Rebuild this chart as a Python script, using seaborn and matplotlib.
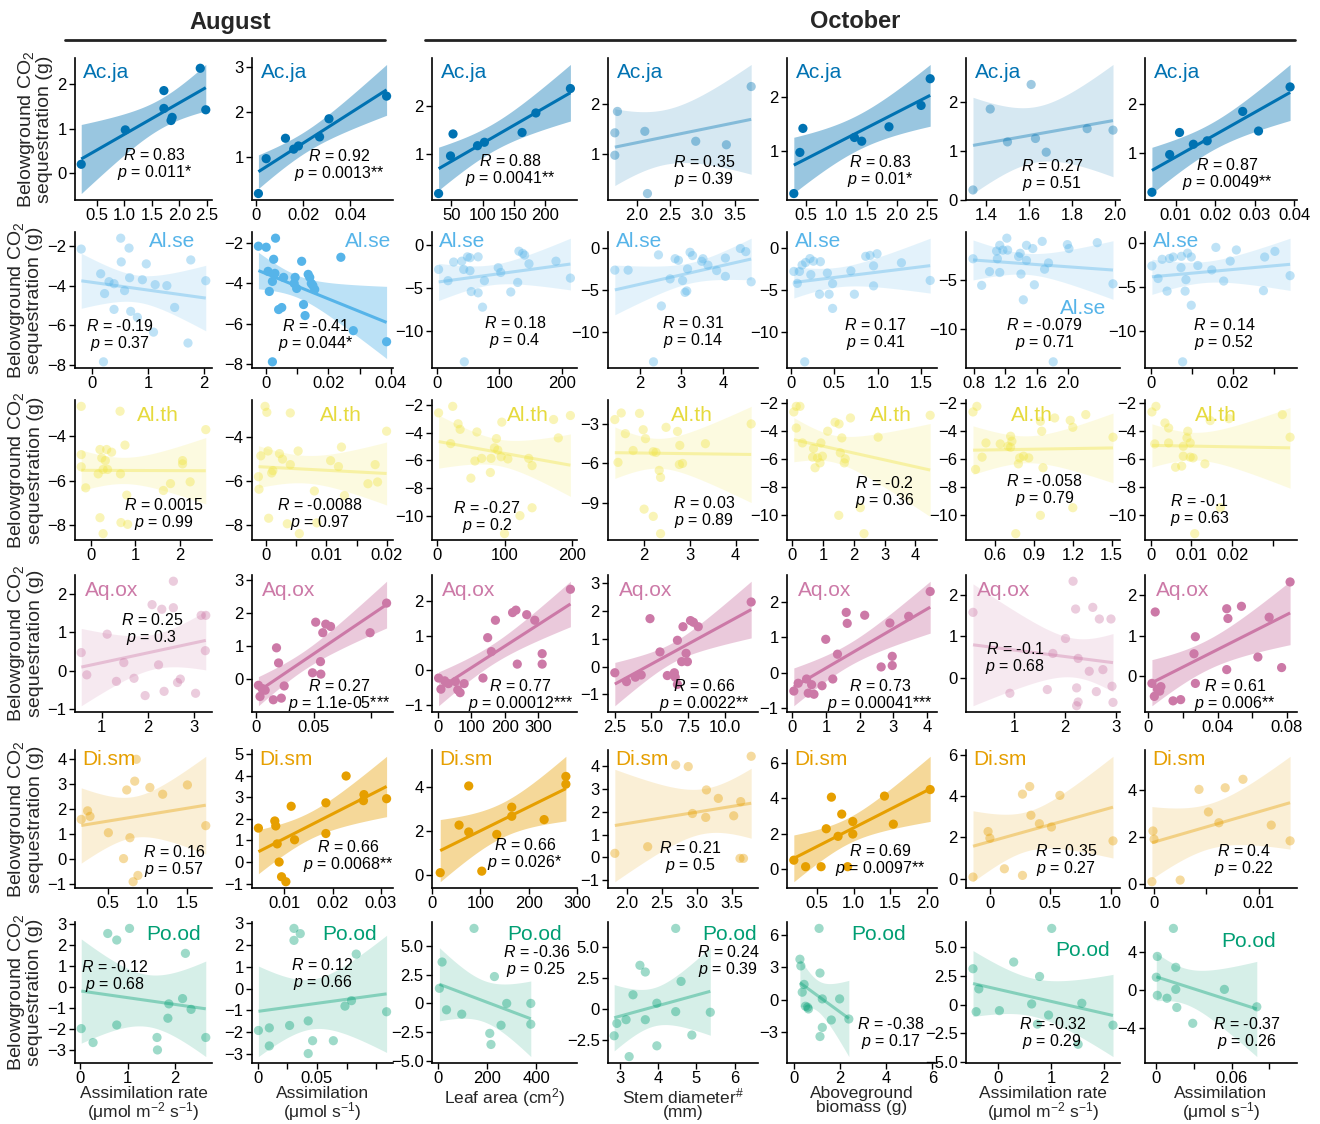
import numpy as np
import pandas as pd
import seaborn as sns
import matplotlib
matplotlib.use("Agg")
import matplotlib.pyplot as plt
from matplotlib.lines import Line2D

# ---------------- data: Ac.ja ----------------
acja1_x = [0.22, 1.02, 1.72, 1.72, 1.85, 1.87, 2.38, 2.48]
acja1_y = [0.20, 0.97, 1.85, 1.45, 1.18, 1.25, 2.35, 1.42]
acja2_x = [0.001, 0.0043, 0.0125, 0.016, 0.018, 0.027, 0.031, 0.0555]
acja2_y = [0.20, 0.97, 1.42, 1.18, 1.25, 1.45, 1.85, 2.35]
acja3_x = [30, 49, 53, 92, 103, 163, 185, 240]
acja3_y = [0.20, 0.97, 1.42, 1.18, 1.25, 1.45, 1.85, 2.35]
acja4_x = [1.70, 1.66, 1.66, 2.12, 2.16, 2.90, 3.37, 3.75]
acja4_y = [1.85, 1.42, 0.97, 1.45, 0.20, 1.25, 1.18, 2.35]
acja5_x = [0.30, 0.40, 0.45, 1.30, 1.42, 1.87, 2.40, 2.55]
acja5_y = [0.20, 0.97, 1.42, 1.25, 1.18, 1.45, 1.85, 2.35]
acja6_x = [1.34, 1.42, 1.50, 1.61, 1.63, 1.68, 1.87, 1.99]
acja6_y = [0.20, 1.85, 1.18, 2.35, 1.25, 0.97, 1.45, 1.42]
acja7_x = [0.004, 0.0085, 0.011, 0.0145, 0.018, 0.027, 0.031, 0.039]
acja7_y = [0.20, 0.97, 1.42, 1.18, 1.25, 1.85, 1.45, 2.35]

# ---------------- data: Al.se ----------------
alse1_x = [-0.2, 0.51, 0.66, 0.15, 0.52, 0.97, 0.39, 0.22, 0.58, 0.67, 0.9, 1.13,
           1.34, 0.39, 0.69, 0.81, 0.2, 1.1, 1.48, 1.77, 2.04, 1.72, 0.3]
alse1_y = [-2.15, -1.6, -2.1, -3.4, -2.8, -2.9, -3.9, -4.4, -4.25, -3.6, -3.7, -3.95,
           -4.0, -5.2, -5.3, -5.6, -7.85, -6.35, -5.1, -2.7, -3.75, -6.9, -3.8]
alse2_x = [-0.0025, 0.0, 0.003, 0.0006, 0.0024, 0.002, 0.0028, 0.0056, 0.001, 0.004,
           0.005, 0.0093, 0.009, 0.0098, 0.0114, 0.0135, 0.014, 0.0145, 0.015, 0.0156,
           0.012, 0.0125, 0.024, 0.028, 0.0387, 0.002]
alse2_y = [-2.15, -2.2, -1.75, -3.4, -2.8, -3.9, -3.5, -3.7, -4.4, -5.3, -5.2, -3.7,
           -4.0, -4.25, -2.9, -3.55, -3.7, -4.0, -4.1, -4.3, -5.05, -5.6, -2.7, -6.35,
           -6.9, -7.9]
alse3_x = [3, 18, 27, 40, 43, 49, 53, 53, 66, 55, 66, 76, 73, 98, 102, 118, 129, 131,
           137, 140, 147, 190, 213, 44]
alse3_y = [-2.85, -4.15, -2.0, -1.9, -2.85, -1.4, -1.5, -3.0, -1.4, -5.4, -5.55, -4.15,
           -7.2, -2.65, -3.2, -5.45, -4.35, -0.75, -1.0, -1.2, -2.2, -1.9, -3.85, -13.5]
alse4_x = [1.4, 1.72, 2.45, 2.85, 2.93, 3.21, 3.27, 3.15, 3.52, 3.49, 3.64, 3.85, 4.06,
           4.42, 4.55, 4.68, 4.06, 3.03, 2.73, 3.13, 3.09, 2.52, 2.33]
alse4_y = [-2.6, -2.6, -0.77, -1.23, -1.42, -0.46, -0.85, -2.46, -1.23, -1.54, -2.0,
           -2.65, -1.15, 0.0, -0.38, -4.0, -3.35, -3.85, -3.65, -5.1, -5.27, -6.9, -13.6]
alse5_x = [0.035, 0.075, 0.1, 0.13, 0.17, 0.22, 0.26, 0.23, 0.34, 0.42, 0.33, 0.44,
           0.48, 0.48, 0.69, 0.73, 0.86, 0.91, 0.95, 0.95, 0.99, 1.27, 1.6, 0.16]
alse5_y = [-2.77, -4.2, -2.77, -2.0, -1.7, -1.23, -1.54, -3.15, -1.6, -2.96, -5.5, -5.5,
           -4.23, -7.2, -2.7, -5.5, -0.96, -0.85, -2.1, -4.5, -0.65, -1.73, -3.85, -13.6]
alse6_x = [0.79, 0.9, 1.0, 1.09, 1.1, 1.13, 1.13, 1.17, 1.22, 1.23, 1.37, 1.39, 1.4,
           1.43, 1.47, 1.47, 1.55, 1.57, 1.67, 1.7, 1.75, 1.99, 2.01, 2.37, 2.57, 1.81]
alse6_y = [-2.83, -5.56, -4.15, -2.04, -2.83, -4.24, -1.45, -1.94, -0.72, -1.94, -2.6,
           -2.27, -4.4, -7.04, -3.0, -1.45, -1.78, -5.5, -1.05, -3.9, -3.26, -1.38,
           -1.78, -1.18, -5.4, -13.4]
alse7_x = [0.0003, 0.0018, 0.0028, 0.0046, 0.0055, 0.004, 0.0074, 0.0075, 0.0084,
           0.0086, 0.009, 0.0099, 0.0099, 0.0115, 0.0149, 0.0159, 0.0178, 0.0194,
           0.0209, 0.0275, 0.0278, 0.0303, 0.034, 0.0078]
alse7_y = [-2.65, -4.07, -1.9, -1.8, -1.64, -5.5, -2.84, -1.56, -5.5, -4.2, -1.2, -1.64,
           -7.1, -2.6, -3.1, -0.55, -4.36, -2.1, -0.84, -5.45, -1.64, -1.0, -3.75, -13.5]

# ---------------- data: Al.th ----------------
alth1_x = [-0.21, 0.66, -0.21, -0.21, -0.11, 0.17, 0.21, 0.28, 0.28, 0.25, 0.33, 0.38,
           0.21, 0.36, 0.47, 0.67, 0.77, 0.81, 0.68, 0.83, 1.63, 1.79, 2.06, 2.06, 2.23,
           2.58]
alth1_y = [-2.65, -2.87, -4.83, -5.38, -6.33, -5.7, -7.68, -8.4, -5.5, -4.98, -5.1, -5.5,
           -4.6, -4.6, -4.72, -5.7, -4.4, -6.66, -7.9, -7.98, -6.45, -6.14, -5.1, -5.25,
           -6.06, -3.7]
alth2_x = [-0.0002, 0.0001, 0.004, -0.0013, -0.0009, -0.0012, 0.0003, 0.0009, 0.0011,
           0.0022, 0.0027, 0.004, 0.0053, 0.0004, 0.0035, 0.0055, 0.008, 0.0084, 0.0107,
           0.012, 0.0125, 0.013, 0.0169, 0.0181, 0.0185, 0.02]
alth2_y = [-2.6, -2.87, -2.9, -5.8, -4.85, -6.37, -4.63, -5.63, -5.52, -4.75, -5.0,
           -5.25, -4.63, -7.69, -7.94, -8.39, -6.45, -7.9, -5.07, -5.34, -4.45, -6.66,
           -6.12, -5.25, -6.04, -3.73]
alth3_x = [2, 23, 20, 31, 34, 50, 59, 56, 66, 80, 79, 85, 88, 90, 96, 95, 105, 136, 141,
           123, 141, 100, 173, 180, 198]
alth3_y = [-2.57, -2.1, -4.79, -3.36, -3.76, -7.29, -3.95, -6.05, -5.86, -5.86, -6.88,
           -5.1, -4.43, -5.26, -3.24, -5.74, -5.9, -5.86, -6.38, -10.0, -9.43, -11.3,
           -3.05, -4.38, -2.76]
alth4_x = [1.36, 1.5, 1.59, 1.76, 1.9, 1.43, 1.98, 2.03, 2.48, 2.73, 2.2, 2.26, 2.78,
           3.34, 2.84, 2.77, 2.33, 2.36, 2.0, 2.2, 2.36, 4.34]
alth4_y = [-2.7, -2.2, -3.77, -5.05, -2.23, -5.95, -3.47, -4.15, -3.29, -3.6, -5.14,
           -5.19, -4.66, -4.53, -6.03, -6.11, -6.56, -7.09, -9.5, -10.05, -11.36, -3.03]
alth5_x = [0.05, 0.13, 0.25, 0.13, 0.33, 0.66, 0.69, 0.74, 0.82, 0.93, 0.98, 0.9, 1.15,
           1.39, 1.52, 1.61, 1.56, 1.72, 1.69, 1.89, 1.51, 2.21, 2.33, 2.79, 4.48]
alth5_y = [-2.64, -2.24, -2.24, -3.79, -4.86, -5.88, -5.26, -6.64, -5.93, -4.86, -5.81,
           -6.29, -4.02, -3.38, -3.5, -4.5, -5.57, -6.0, -6.29, -3.07, -10.05, -9.5,
           -11.36, -4.45, -2.88]
alth6_x = [0.43, 0.46, 0.5, 0.45, 0.53, 0.64, 0.7, 0.72, 0.73, 0.72, 0.78, 0.79, 0.82,
           0.86, 0.95, 0.96, 0.97, 0.95, 1.06, 1.18, 1.2, 1.2, 1.3, 1.51, 0.76]
alth6_y = [-2.64, -2.24, -5.88, -6.76, -4.86, -4.93, -5.1, -4.38, -4.74, -5.17, -6.36,
           -5.93, -5.81, -5.93, -3.31, -4.02, -6.64, -10.05, -3.07, -3.24, -3.74, -9.5,
           -2.83, -4.45, -11.36]
alth7_x = [0.0003, 0.0013, 0.001, 0.0035, 0.0044, 0.0044, 0.0061, 0.0076, 0.008, 0.0089,
           0.0091, 0.0097, 0.0097, 0.008, 0.0104, 0.0133, 0.0146, 0.0108, 0.0171, 0.0192,
           0.0323, 0.0342]
alth7_y = [-2.64, -2.24, -4.93, -3.43, -3.79, -4.86, -6.6, -6.52, -5.81, -4.5, -4.02,
           -5.88, -4.86, -5.1, -5.93, -6.36, -3.26, -11.36, -9.5, -3.12, -2.83, -4.45]

# ---------------- data: Aq.ox ----------------
aqox1_x = [0.56, 0.68, 1.12, 1.32, 1.48, 1.7, 2.09, 2.23, 1.94, 2.3, 2.35, 2.55, 2.55,
           2.64, 2.7, 3.03, 3.15, 3.25, 3.24]
aqox1_y = [0.47, -0.11, 0.95, -0.28, 0.21, -0.2, 1.72, 0.15, -0.65, 1.6, -0.54, 1.64,
           2.33, -0.31, -0.22, -0.59, 1.44, 1.44, 0.52]
aqox2_x = [0.0018, 0.0032, 0.0053, 0.0077, 0.0176, 0.0194, 0.0148, 0.0218, 0.0243,
           0.049, 0.0518, 0.056, 0.0563, 0.058, 0.0606, 0.0648, 0.0993, 0.1137]
aqox2_y = [-0.19, -0.53, -0.29, -0.34, 0.95, 0.49, -0.63, -0.58, -0.21, 0.19, 1.73,
           0.53, 0.15, 1.41, 1.67, 1.6, 1.41, 2.31]
aqox3_x = [3, 10, 21, 32, 53, 60, 67, 79, 135, 149, 160, 172, 223, 233, 237, 265, 289,
           311, 311, 395]
aqox3_y = [-0.22, -0.54, -0.3, -0.38, -0.32, -0.56, -0.64, -0.38, -0.22, 0.94, 0.54,
           1.44, 1.66, 1.73, 0.18, 1.6, 1.44, 0.48, 0.18, 2.33]
aqox4_x = [2.5, 3.3, 3.9, 4.3, 4.9, 5.58, 6.08, 6.56, 6.77, 7.15, 7.36, 7.45, 7.06, 7.66,
           7.86, 8.19, 6.62, 6.77, 11.8]
aqox4_y = [-0.22, -0.54, -0.38, -0.3, 1.73, 0.53, -0.32, -0.22, 0.95, 1.44, 0.48, 0.18,
           0.18, 1.66, 1.6, 1.44, -0.38, -0.64, 2.33]
aqox5_x = [0.04, 0.17, 0.42, 0.57, 0.47, 0.64, 0.88, 0.99, 1.34, 1.6, 1.63, 1.2, 2.15,
           2.64, 2.9, 2.97, 2.97, 3.46, 4.1]
aqox5_y = [-0.52, -0.3, -0.18, -0.34, -0.58, -0.61, -0.37, 0.94, 0.52, 1.7, 1.39, -0.18,
           1.62, 0.16, 1.4, 0.46, 0.2, 1.59, 2.29]
aqox6_x = [0.18, 0.91, 1.65, 1.76, 2.01, 2.16, 2.21, 2.26, 2.23, 2.26, 2.23, 2.48, 2.55,
           2.62, 2.68, 2.75, 2.91, 2.93, 2.95]
aqox6_y = [1.58, -0.37, -0.28, 0.59, 0.95, 2.33, 1.66, 0.47, -0.24, -0.58, -0.67, 0.16,
           1.7, -0.33, 1.42, 0.2, 1.42, -0.2, -0.59]
aqox7_x = [0.002, 0.0034, 0.0039, 0.0052, 0.0065, 0.0072, 0.0142, 0.0186, 0.0263, 0.0271,
           0.0271, 0.0452, 0.0459, 0.0452, 0.0537, 0.0632, 0.0697, 0.0769, 0.0818]
aqox7_y = [-0.18, -0.5, 1.58, -0.32, -0.37, -0.26, -0.61, -0.58, 0.55, 0.97, -0.18, 1.66,
           1.42, 0.16, 1.72, 0.47, 1.45, 0.21, 2.32]

# ---------------- data: Di.sm ----------------
dism1_x = [0.17, 0.25, 0.28, 0.51, 0.7, 0.74, 0.78, 0.82, 0.86, 0.84, 0.88, 1.03, 1.19,
           1.5, 1.73]
dism1_y = [1.58, 1.92, 1.7, 1.05, 0.02, 2.75, 0.85, -0.9, 3.97, 3.1, -0.65, 2.85, 2.58,
           2.95, 1.33]
dism2_x = [0.0046, 0.008, 0.0082, 0.0085, 0.0089, 0.0094, 0.0103, 0.0114, 0.0121, 0.0186,
           0.0186, 0.0228, 0.0265, 0.0264, 0.0312]
dism2_y = [1.57, 1.9, 1.67, 0.84, 0.0, -0.68, -0.91, 2.58, 1.03, 2.74, 1.32, 3.98, 3.12,
           2.84, 2.93]
dism3_x = [17, 56, 76, 76, 134, 165, 165, 232, 277, 277, 103]
dism3_y = [0.12, 2.27, 4.04, 1.96, 1.85, 2.67, 3.08, 2.52, 4.12, 4.47, 0.19]
dism4_x = [1.83, 2.3, 2.7, 2.88, 3.14, 3.31, 2.94, 3.13, 3.53, 3.63, 3.78, 3.62, 3.67]
dism4_y = [0.18, 0.47, 4.04, 3.97, 2.95, 2.58, 1.92, 1.75, 1.82, 2.44, 4.42, -0.04, -0.04]
dism5_x = [0.19, 0.35, 0.56, 0.63, 0.7, 0.79, 0.84, 0.92, 0.99, 0.99, 1.42, 1.54, 2.04]
dism5_y = [0.5, 0.13, 0.13, 2.28, 4.07, 1.85, 3.11, 0.13, 2.69, 1.98, 4.13, 2.54, 4.5]
dism6_x = [-0.14, -0.015, 0.0, 0.12, 0.27, 0.27, 0.33, 0.34, 0.41, 0.51, 0.58, 1.02]
dism6_y = [0.08, 2.28, 1.96, 0.48, 0.16, 4.09, 4.46, 3.07, 2.66, 2.5, 4.03, 1.83]
dism7_x = [-0.0002, -0.0001, 0.0, 0.0025, 0.0043, 0.0052, 0.0062, 0.0068, 0.0085, 0.0112,
           0.013]
dism7_y = [0.1, 2.26, 1.91, 0.17, 4.03, 3.07, 2.61, 4.1, 4.46, 2.51, 1.84]

# ---------------- data: Po.od ----------------
pood1_x = [0.02, 0.27, 0.58, 0.77, 1.04, 0.77, 1.62, 1.63, 1.87, 1.85, 2.16, 2.22, 2.34,
           2.65]
pood1_y = [-1.97, -2.63, 2.53, 2.22, 2.77, -1.8, -2.39, -2.98, -0.8, -1.48, -0.55, 1.59,
           -1.06, -2.39]
pood2_x = [0.0007, 0.0099, 0.0099, 0.027, 0.0307, 0.0307, 0.036, 0.0427, 0.0464, 0.0427,
           0.0639, 0.0737, 0.0792, 0.0832, 0.1088]
pood2_y = [-1.92, -1.8, -2.63, -1.69, 2.77, 2.22, 2.53, -1.48, -2.39, -2.98, -2.39, -0.8,
           -0.55, 1.59, -1.06]
pood3_x = [5, 16, 34, 96, 146, 210, 215, 229, 256, 279, 377, 377]
pood3_y = [1.32, 3.62, -0.56, -0.94, 6.56, -2.62, -3.59, 2.35, -1.91, 0.0, 0.0, -1.82]
pood4_x = [4.46, 3.53, 3.67, 4.6, 3.35, 3.97, 4.46, 5.36, 3.67, 3.17, 2.93, 2.86, 4.88,
           3.97, 3.25]
pood4_y = [6.5, 3.52, 2.98, 2.22, 1.14, 0.46, -0.22, -0.27, -0.87, -0.87, -1.17, -2.17,
           -2.11, -2.98, -3.85]
pood5_x = [0.26, 0.3, 0.36, 0.44, 0.5, 0.59, 0.63, 1.13, 1.23, 1.23, 1.13, 1.62, 1.98,
           2.38, 1.09]
pood5_y = [3.73, 3.11, 0.68, 1.4, -0.62, -0.71, -0.87, 2.45, 0.06, -2.58, -3.42, -1.89,
           0.06, -1.8, 6.58]
pood6_x = [-0.48, -0.37, -0.42, 0.02, 0.29, 0.63, 0.78, 0.95, 1.01, 0.74, 1.58, 2.17, 1.51]
pood6_y = [3.12, 1.37, -0.61, -0.52, 3.7, 0.06, 2.45, -0.9, 6.62, -1.69, 0.12, -1.78,
           -3.44]
pood7_x = [0.0008, 0.0, 0.0008, 0.0085, 0.0136, 0.0155, 0.0155, 0.0163, 0.029, 0.0542,
           0.08]
pood7_y = [3.57, 1.36, -0.56, -0.87, 6.54, 2.41, 0.07, -1.85, -3.53, 0.07, -1.78]

# ---------------- labels and statistics ----------------
species = ["Ac.ja", "Al.se", "Al.th", "Aq.ox", "Di.sm", "Po.od"]
r_values = [
    ["0.83", "0.92", "0.88", "0.35", "0.83", "0.27", "0.87"],
    ["-0.19", "-0.41", "0.18", "0.31", "0.17", "-0.079", "0.14"],
    ["0.0015", "-0.0088", "-0.27", "0.03", "-0.2", "-0.058", "-0.1"],
    ["0.25", "0.27", "0.77", "0.66", "0.73", "-0.1", "0.61"],
    ["0.16", "0.66", "0.66", "0.21", "0.69", "0.35", "0.4"],
    ["-0.12", "0.12", "-0.36", "0.24", "-0.38", "-0.32", "-0.37"],
]
p_values = [
    ["0.011*", "0.0013**", "0.0041**", "0.39", "0.01*", "0.51", "0.0049**"],
    ["0.37", "0.044*", "0.4", "0.14", "0.41", "0.71", "0.52"],
    ["0.99", "0.97", "0.2", "0.89", "0.36", "0.79", "0.63"],
    ["0.3", "1.1e-05***", "0.00012***", "0.0022**", "0.00041***", "0.68", "0.006**"],
    ["0.57", "0.0068**", "0.026*", "0.5", "0.0097**", "0.27", "0.22"],
    ["0.68", "0.66", "0.25", "0.39", "0.17", "0.29", "0.26"],
]
x_titles = ["Assimilation rate\n(μmol m$^{\\mathrm{-2}}$ s$^{\\mathrm{-1}}$)",
            "Assimilation\n(μmol s$^{\\mathrm{-1}}$)",
            "Leaf area (cm$^{\\mathrm{2}}$)",
            "Stem diameter$^{\\#}$\n(mm)",
            "Aboveground\nbiomass (g)",
            "Assimilation rate\n(μmol m$^{\\mathrm{-2}}$ s$^{\\mathrm{-1}}$)",
            "Assimilation\n(μmol s$^{\\mathrm{-1}}$)"]

x_data = [
    [acja1_x, acja2_x, acja3_x, acja4_x, acja5_x, acja6_x, acja7_x],
    [alse1_x, alse2_x, alse3_x, alse4_x, alse5_x, alse6_x, alse7_x],
    [alth1_x, alth2_x, alth3_x, alth4_x, alth5_x, alth6_x, alth7_x],
    [aqox1_x, aqox2_x, aqox3_x, aqox4_x, aqox5_x, aqox6_x, aqox7_x],
    [dism1_x, dism2_x, dism3_x, dism4_x, dism5_x, dism6_x, dism7_x],
    [pood1_x, pood2_x, pood3_x, pood4_x, pood5_x, pood6_x, pood7_x],
]
y_data = [
    [acja1_y, acja2_y, acja3_y, acja4_y, acja5_y, acja6_y, acja7_y],
    [alse1_y, alse2_y, alse3_y, alse4_y, alse5_y, alse6_y, alse7_y],
    [alth1_y, alth2_y, alth3_y, alth4_y, alth5_y, alth6_y, alth7_y],
    [aqox1_y, aqox2_y, aqox3_y, aqox4_y, aqox5_y, aqox6_y, aqox7_y],
    [dism1_y, dism2_y, dism3_y, dism4_y, dism5_y, dism6_y, dism7_y],
    [pood1_y, pood2_y, pood3_y, pood4_y, pood5_y, pood6_y, pood7_y],
]

# ---------------- axis ticks ----------------
x_ticks = [
    [[0.5, 1.0, 1.5, 2.0, 2.5], [0, 0.02, 0.04], [50, 100, 150, 200], [2.0, 2.5, 3.0, 3.5],
     [0.5, 1.0, 1.5, 2.0, 2.5], [1.4, 1.6, 1.8, 2.0], [0.01, 0.02, 0.03, 0.04]],
    [[0, 1, 2], [0, 0.01, 0.02, 0.03, 0.04], [0, 100, 200], [2, 3, 4], [0, 0.5, 1.0, 1.5],
     [0.8, 1.2, 1.6, 2.0], [0, 0.01, 0.02, 0.03]],
    [[0, 1, 2], [0, 0.005, 0.01, 0.015, 0.02], [0, 100, 200], [2, 3, 4], [0, 1, 2, 3, 4],
     [0.6, 0.9, 1.2, 1.5], [0, 0.01, 0.02, 0.03]],
    [[1, 2, 3], [0, 0.05, 0.1], [0, 100, 200, 300], [2.5, 5.0, 7.5, 10.0], [0, 1, 2, 3, 4],
     [1, 2, 3], [0, 0.02, 0.04, 0.06, 0.08]],
    [[0.5, 1.0, 1.5], [0.01, 0.02, 0.03], [0, 100, 200, 300], [2.0, 2.5, 3.0, 3.5],
     [0.5, 1.0, 1.5, 2.0], [0, 0.5, 1.0], [0, 0.005, 0.01]],
    [[0, 1, 2], [0, 0.025, 0.05, 0.075, 0.1], [0, 200, 400], [3, 4, 5, 6], [0, 2, 4, 6],
     [0, 1, 2], [0, 0.03, 0.06, 0.09]],
]
# ticks drawn without a number
x_tick_shown = {
    (1, 1): [1, 0, 1, 0, 1], (1, 6): [1, 0, 1, 0], (2, 1): [1, 0, 1, 0, 1],
    (2, 6): [1, 1, 1, 0], (3, 1): [1, 1, 0], (3, 6): [1, 0, 1, 0, 1],
    (4, 6): [1, 0, 1], (5, 1): [1, 0, 1, 0, 0], (5, 6): [1, 0, 1, 0],
}
x_limits = {(5, 2): (-25, 565), (5, 3): (2.7, 6.6), (5, 4): (-0.3, 6.2),
            (5, 6): (-0.009, 0.112)}
y_ticks = [
    [[0, 1, 2], [1, 2, 3], [1, 2], [1, 2], [1, 2], [0, 1, 2], [1, 2]],
    [[-8, -6, -4, -2], [-8, -6, -4, -2], [-10, -5, 0], [-10, -5, 0], [-10, -5, 0],
     [-10, -5], [-10, -5, 0]],
    [[-8, -6, -4], [-8, -6, -4], [-10, -8, -6, -4, -2], [-9, -6, -3],
     [-10, -8, -6, -4, -2], [-10, -8, -6, -4, -2], [-10, -8, -6, -4, -2]],
    [[-1, 0, 1, 2], [0, 1, 2, 3], [-1, 0, 1, 2], [-1, 0, 1, 2, 3], [-1, 0, 1, 2],
     [0, 1, 2], [0, 1, 2]],
    [[-1, 0, 1, 2, 3, 4], [-1, 0, 1, 2, 3, 4, 5], [0, 2, 4], [-1, 0, 1, 2, 3, 4],
     [0, 2, 4, 6], [0, 2, 4, 6], [0, 2, 4]],
    [[-3, -2, -1, 0, 1, 2, 3], [-3, -2, -1, 0, 1, 2, 3], [-5, -2.5, 0, 2.5, 5],
     [-2.5, 0, 2.5, 5], [-3, 0, 3, 6], [-5, -2.5, 0, 2.5, 5], [-4, 0, 4]],
]

# ---------------- text placement (axes fraction) ----------------
name_pos = [
    [(0.06, 0.9)] * 7,
    [(0.54, 0.93), (0.66, 0.93), (0.05, 0.93), (0.05, 0.93), (0.05, 0.93), (0.61, 0.44),
     (0.05, 0.93)],
    [(0.45, 0.89), (0.48, 0.89), (0.52, 0.89), (0.42, 0.89), (0.55, 0.89), (0.29, 0.89),
     (0.33, 0.89)],
    [(0.07, 0.89)] * 7,
    [(0.05, 0.93)] * 7,
    [(0.52, 0.91), (0.5, 0.91), (0.52, 0.91), (0.63, 0.91), (0.43, 0.91), (0.58, 0.8),
     (0.5, 0.86)],
]
stat_pos = [
    [(0.58, 0.25), (0.62, 0.24), (0.54, 0.21), (0.64, 0.2), (0.62, 0.2), (0.56, 0.17),
     (0.54, 0.18)],
    [(0.33, 0.24), (0.45, 0.24), (0.57, 0.26), (0.57, 0.26), (0.59, 0.25), (0.51, 0.25),
     (0.52, 0.25)],
    [(0.65, 0.18), (0.48, 0.18), (0.38, 0.16), (0.64, 0.2), (0.65, 0.34), (0.51, 0.35),
     (0.36, 0.21)],
    [(0.56, 0.6), (0.62, 0.12), (0.61, 0.12), (0.64, 0.12), (0.62, 0.12), (0.32, 0.39),
     (0.59, 0.12)],
    [(0.72, 0.19), (0.68, 0.23), (0.64, 0.24), (0.55, 0.22), (0.62, 0.2), (0.65, 0.2),
     (0.65, 0.2)],
    [(0.29, 0.61), (0.5, 0.63), (0.72, 0.72), (0.8, 0.72), (0.69, 0.21), (0.56, 0.21),
     (0.67, 0.21)],
]

point_colors = ["#0072B2", "#56B4E9", "#F0E442", "#CC79A7", "#E69F00", "#009E73"]
name_colors = ["#0072B2", "#56B4E9", "#E6DA3E", "#CC79A7", "#E69F00", "#009E73"]

# panel grid in pixels
W, H = 1320, 1124
col_left = [75, 252, 432, 608, 787, 966, 1145]
col_width = [137, 141, 145, 150, 150, 154, 152]
row_top = [58, 232, 400, 575, 750, 922]
row_height = [142, 136, 140, 137, 138, 141]

T975 = {4: 2.776, 5: 2.571, 6: 2.447, 7: 2.365, 8: 2.306, 9: 2.262, 10: 2.228,
        11: 2.201, 12: 2.179, 13: 2.160, 14: 2.145, 15: 2.131, 16: 2.120, 17: 2.110,
        18: 2.101, 19: 2.093, 20: 2.086, 21: 2.080, 22: 2.074, 23: 2.069, 24: 2.064,
        25: 2.060, 26: 2.056, 27: 2.052, 28: 2.048}


def conf_band(x, y, grid):
    """95% confidence band of the least-squares line."""
    x = np.asarray(x, float)
    y = np.asarray(y, float)
    n = x.size
    slope, icpt = np.polyfit(x, y, 1)
    resid = y - (icpt + slope * x)
    s = np.sqrt(resid @ resid / (n - 2))
    se = s * np.sqrt(1.0 / n + (grid - x.mean()) ** 2 / ((x - x.mean()) ** 2).sum())
    fit = icpt + slope * grid
    t = T975.get(n - 2, 2.0)
    return fit - t * se, fit + t * se


def fmt_ticks(vals, shown=None):
    """Format tick numbers with a shared number of decimals; blank the hidden ones."""
    if shown is None:
        shown = [1] * len(vals)
    dec = 0
    for v, keep in zip(vals, shown):
        if not keep:
            continue
        s = f"{abs(v):.6f}".rstrip("0")
        dec = max(dec, len(s.split(".")[1]) if "." in s else 0)
    out = []
    for v, keep in zip(vals, shown):
        if not keep:
            out.append("")
        elif v == 0:
            out.append("0")
        else:
            t = f"{abs(v):.{dec}f}"
            out.append(("\u2212" + t) if v < 0 else t)
    return out


sns.set_theme(style="ticks")
plt.rcParams["font.family"] = ["Liberation Sans", "DejaVu Sans"]
plt.rcParams["mathtext.fontset"] = "custom"
plt.rcParams["mathtext.rm"] = "Liberation Sans"
plt.rcParams["mathtext.it"] = "Liberation Sans:italic"
plt.rcParams["mathtext.bf"] = "Liberation Sans:bold"

fig = plt.figure(figsize=(W / 100, H / 100), dpi=100)
fig.patch.set_facecolor("white")

for r in range(6):
    for c in range(7):
        box = [col_left[c] / W, 1 - (row_top[r] + row_height[r]) / H,
               col_width[c] / W, row_height[r] / H]
        ax = fig.add_axes(box)
        xs, ys = x_data[r][c], y_data[r][c]
        sig = "*" in p_values[r][c]
        col = point_colors[r]
        pt_alpha, band_alpha = (1.0, 0.4) if sig else (0.38, 0.16)

        grid = np.linspace(min(xs), max(xs), 120)
        lo, hi = conf_band(xs, ys, grid)
        ax.fill_between(grid, lo, hi, color=col, alpha=band_alpha, lw=0, zorder=1)

        df = pd.DataFrame({"x": xs, "y": ys})
        sns.regplot(data=df, x="x", y="y", ax=ax, ci=None, truncate=True, color=col,
                    scatter_kws=dict(s=44, alpha=pt_alpha, edgecolor="none",
                                     linewidths=0, zorder=2),
                    line_kws=dict(alpha=pt_alpha, lw=2.2, zorder=3,
                                  solid_capstyle="butt"))

        if (r, c) in x_limits:
            ax.set_xlim(*x_limits[(r, c)])

        xt = x_ticks[r][c]
        ax.set_xticks(xt)
        ax.set_xticklabels(fmt_ticks(xt, x_tick_shown.get((r, c))))
        yt = y_ticks[r][c]
        ax.set_yticks(yt)
        ax.set_yticklabels(fmt_ticks(yt))

        for side in ("top", "right"):
            ax.spines[side].set_visible(False)
        for side in ("left", "bottom"):
            ax.spines[side].set_color("black")
            ax.spines[side].set_linewidth(1.2)
        ax.tick_params(axis="both", direction="out", length=4, width=1.0,
                       labelsize=12, pad=2, colors="black")
        ax.set_facecolor("white")

        ax.set_xlabel(x_titles[c] if r == 5 else "", fontsize=12.5, labelpad=0,
                      linespacing=0.9)
        if c == 0:
            ax.set_ylabel("Belowground CO$_{\\mathrm{2}}$\nsequestration (g)",
                          fontsize=14, labelpad=3, linespacing=0.95)
        else:
            ax.set_ylabel("")

        nx, ny = name_pos[r][c]
        ax.text(nx, ny, species[r], transform=ax.transAxes, ha="left", va="center",
                fontsize=15, color=name_colors[r], zorder=5)
        sx, sy = stat_pos[r][c]
        ax.text(sx, sy, f"$R$ = {r_values[r][c]}\n$p$ = {p_values[r][c]}",
                transform=ax.transAxes, ha="center", va="center", fontsize=11.5,
                linespacing=1.0, color="black", zorder=5)

# month headers
fig.text(230 / W, 1 - 22 / H, "August", ha="center", va="center", fontsize=17,
         fontweight="bold")
fig.text(855 / W, 1 - 22 / H, "October", ha="center", va="center", fontsize=17,
         fontweight="bold")
fig.add_artist(Line2D([65 / W, 385 / W], [1 - 40 / H] * 2, color="#222222", lw=2))
fig.add_artist(Line2D([425 / W, 1295 / W], [1 - 40 / H] * 2, color="#222222", lw=2))

fig.savefig("out.png", dpi=100, facecolor="white")
